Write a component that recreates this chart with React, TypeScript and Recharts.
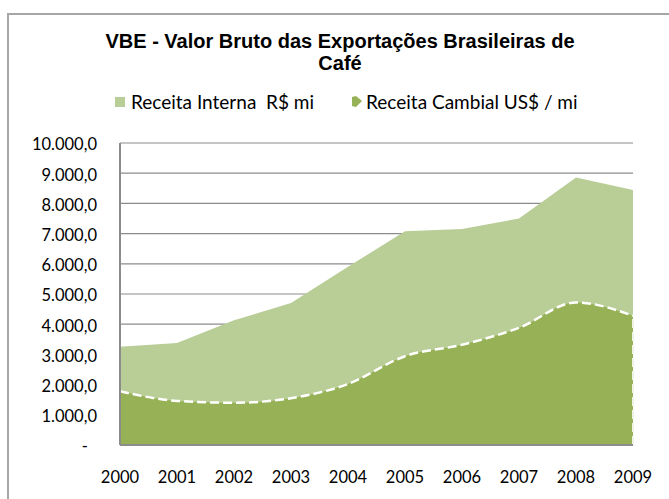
import { Area, AreaChart, CartesianGrid, ReferenceLine, XAxis, YAxis } from "recharts"

const years = ["2000", "2001", "2002", "2003", "2004", "2005", "2006", "2007", "2008", "2009"]
const receitaInterna = [3250, 3380, 4130, 4700, 5900, 7080, 7150, 7500, 8860, 8440]
const receitaCambial = [1780, 1460, 1400, 1550, 2020, 2940, 3320, 3880, 4720, 4280]
const yTicks = [0, 1000, 2000, 3000, 4000, 5000, 6000, 7000, 8000, 9000, 10000]

const data = years.map((year, i) => ({
  year,
  interna: receitaInterna[i],
  cambial: receitaCambial[i]
}))

const font = "Lato, 'Open Sans', sans-serif"
const lastYear = years[years.length - 1]

const fmt = (v: number) =>
  v.toLocaleString("pt-BR", { minimumFractionDigits: 1, maximumFractionDigits: 1 })

const YTick = (props: any) => {
  const { x, y, payload } = props
  const zero = payload.value === 0
  return (
    <text
      x={zero ? x - 9 : x}
      y={y + 1.5}
      dy="0.355em"
      textAnchor="end"
      fill="#000"
      fontSize={16.5}
      fontFamily={font}
    >
      {zero ? "-" : fmt(payload.value)}
    </text>
  )
}

const App = () => {
  return (
    <div
      style={{
        position: "absolute",
        left: 0,
        top: 0,
        width: 669,
        height: 499,
        overflow: "hidden",
        background: "#fff"
      }}
    >
      <div
        style={{
          position: "absolute",
          left: 7,
          top: 13,
          width: 720,
          height: 600,
          border: "2px solid #a6a6a6"
        }}
      />
      <div
        style={{
          position: "absolute",
          left: 0,
          top: 30,
          width: 680,
          textAlign: "center",
          fontFamily: "'Liberation Sans', Arial, sans-serif",
          fontWeight: "bold",
          fontSize: 20,
          lineHeight: "22px"
        }}
      >
        VBE - Valor Bruto das Exportações Brasileiras de
        <br />
        Café
      </div>
      <div
        style={{
          position: "absolute",
          left: 115,
          top: 90,
          display: "flex",
          alignItems: "center",
          fontFamily: font,
          fontSize: 19,
          whiteSpace: "pre"
        }}
      >
        <span style={{ width: 10, height: 10, background: "#b9cd96", marginRight: 6 }} />
        <span>Receita Interna  R$ mi</span>
        <svg width={10} height={11} style={{ marginLeft: 38, marginRight: 4 }}>
          <polygon points="0,1 4,0 10,5 4,11 0,10" fill="#96b156" />
        </svg>
        <span>Receita Cambial US$ / mi</span>
      </div>
      <div style={{ position: "absolute", left: 0, top: 0 }}>
        <AreaChart
          width={669}
          height={499}
          data={data}
          margin={{ top: 143, right: 36, bottom: 24, left: 0 }}
        >
          <CartesianGrid vertical={false} stroke="#8c8c8c" strokeWidth={1.2} />
          <Area
            type="linear"
            dataKey="interna"
            stroke="none"
            fill="#b9cd96"
            fillOpacity={1}
            isAnimationActive={false}
          />
          <Area
            type="monotone"
            dataKey="cambial"
            stroke="#ffffff"
            strokeWidth={2.5}
            strokeDasharray="9 4"
            fill="#96b156"
            fillOpacity={1}
            isAnimationActive={false}
          />
          <ReferenceLine
            segment={[
              { x: lastYear, y: 0 },
              { x: lastYear, y: receitaCambial[receitaCambial.length - 1] }
            ]}
            stroke="#eef3e4"
            strokeWidth={2}
            strokeDasharray="9 4"
          />
          <ReferenceLine
            segment={[
              { x: years[0], y: 0 },
              { x: lastYear, y: 0 }
            ]}
            stroke="#d9e4c4"
            strokeWidth={2}
            strokeDasharray="9 4"
          />
          <XAxis
            dataKey="year"
            axisLine={{ stroke: "#8c8c8c", strokeWidth: 2 }}
            tickLine={false}
            tickMargin={20}
            height={30}
            interval={0}
            tick={{ fill: "#000", fontSize: 16.5, fontFamily: font }}
          />
          <YAxis
            width={120}
            domain={[0, 10000]}
            ticks={yTicks}
            interval={0}
            axisLine={{ stroke: "#8c8c8c", strokeWidth: 2 }}
            tickLine={false}
            tick={(p: any) => <YTick {...p} x={p.x - 15} />}
          />
        </AreaChart>
      </div>
    </div>
  )
}

export default App
